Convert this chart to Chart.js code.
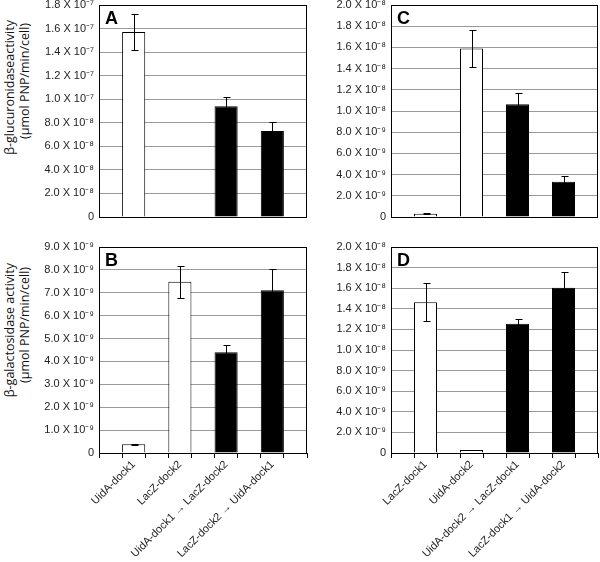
<!DOCTYPE html>
<html>
<head>
<meta charset="utf-8">
<script src="https://cdn.jsdelivr.net/npm/chart.js@4"></script>
<style>
body{margin:0;background:#fff;width:600px;height:562px;position:relative;overflow:hidden;font-family:"Liberation Sans",Arial,sans-serif}
.box{position:absolute}
.ytitle{position:absolute;writing-mode:vertical-rl;transform:rotate(180deg);font-family:"Open Sans",sans-serif;font-size:12.5px;color:#111;white-space:nowrap;line-height:1}
</style>
</head>
<body>
<div class="ytitle" style="left:4px;top:20px">β-glucuronidaseactivity</div>
<div class="ytitle" style="left:19px;top:23px">(µmol PNP/min/cell)</div>
<div class="ytitle" style="left:4px;top:263px">β-galactosidase activity</div>
<div class="ytitle" style="left:19px;top:267px">(µmol PNP/min/cell)</div>

<div class="box" style="left:40px;top:0"><canvas id="chart-a" width="280" height="222"></canvas></div>
<div class="box" style="left:320px;top:0"><canvas id="chart-c" width="280" height="222"></canvas></div>
<div class="box" style="left:40px;top:235px"><canvas id="chart-b" width="280" height="327"></canvas></div>
<div class="box" style="left:320px;top:235px"><canvas id="chart-d" width="280" height="327"></canvas></div>

<script>
// categories
const leftCats = ["UidA-dock1", "LacZ-dock2", "UidA-dock1 → LacZ-dock2", "LacZ-dock2 → UidA-dock1"];
const rightCats = ["LacZ-dock1", "UidA-dock2", "UidA-dock2 → LacZ-dock1", "LacZ-dock1 → UidA-dock2"];
const barColors = ["#ffffff", "#ffffff", "#000000", "#000000"];

// A: beta-glucuronidase, left strains
const valsA = [1.57e-7, 5e-10, 9.4e-8, 7.3e-8];
const errA = [1.5e-8, 0, 8e-9, 8e-9];
// B: beta-galactosidase, left strains
const valsB = [3.8e-10, 7.48e-9, 4.4e-9, 7.11e-9];
const errB = [2e-11, 7e-10, 3.2e-10, 9.2e-10];
// C: beta-glucuronidase, right strains
const valsC = [3.1e-10, 1.59e-8, 1.063e-8, 3.33e-9];
const errC = [5e-11, 1.75e-9, 1.05e-9, 5e-10];
// D: beta-galactosidase, right strains
const valsD = [1.463e-8, 2.9e-10, 1.255e-8, 1.605e-8];
const errD = [1.85e-9, 3e-11, 4.3e-10, 1.5e-9];

// y scales (max, step)
const yMaxA = 1.8e-7, yStepA = 2e-8;
const yMaxB = 9e-9, yStepB = 1e-9;
const yMaxC = 2e-8, yStepC = 2e-9;
const yMaxD = 2e-8, yStepD = 2e-9;

const SUP = {"-":"⁻","0":"⁰","1":"¹","2":"²","3":"³","4":"⁴","5":"⁵","6":"⁶","7":"⁷","8":"⁸","9":"⁹"};

// 9 slots: empty gap, bar, gap, bar ... like the excel original
function spread(arr, blank){
  const out = [blank];
  arr.forEach(v=>{ out.push(v); out.push(blank); });
  return out;
}

function fmtTick(v){
  if(v < 1e-15) return "0";
  const [m, e] = v.toExponential(1).split("e");
  const ex = String(parseInt(e,10)).split("").map(c=>SUP[c]).join("");
  return `${m} X 10${ex}`;
}

const errorBars = {
  id: "errorBars",
  afterDatasetsDraw(chart, args, opts){
    const ctx = chart.ctx;
    const y = chart.scales.y;
    const data = chart.data.datasets[0].data;
    ctx.save();
    ctx.strokeStyle = "#000";
    ctx.lineWidth = 1;
    chart.getDatasetMeta(0).data.forEach((bar, i)=>{
      const v = data[i], e = opts.errors[i];
      if(v == null || !e) return;
      const x = Math.round(bar.x) + 0.5;
      const yt = Math.round(y.getPixelForValue(v + e)) + 0.5;
      const yb = Math.round(y.getPixelForValue(Math.max(0, v - e))) + 0.5;
      ctx.beginPath();
      ctx.moveTo(x, yt); ctx.lineTo(x, yb);
      ctx.moveTo(x - 3, yt); ctx.lineTo(x + 4, yt);
      ctx.moveTo(x - 3, yb); ctx.lineTo(x + 4, yb);
      ctx.stroke();
    });
    ctx.restore();
  }
};

const frame = {
  id: "frame",
  afterDraw(chart, args, opts){
    const {left, top, right, bottom} = chart.chartArea;
    const ctx = chart.ctx;
    ctx.save();
    ctx.strokeStyle = "#000";
    ctx.lineWidth = 1;
    ctx.strokeRect(Math.round(left) + 0.5, Math.round(top) + 0.5, Math.round(right - left) - 1, Math.round(bottom - top));
    ctx.fillStyle = "#000";
    ctx.font = "bold 18px 'Liberation Sans', Arial, sans-serif";
    ctx.textBaseline = "alphabetic";
    ctx.fillText(opts.letter, left + 6, top + 19);
    ctx.restore();
  }
};

function makePanel(id, cats, vals, errs, yMax, yStep, letter, yWidth, pad, showX){
  const ctx = document.getElementById(id).getContext("2d");
  const xScale = {
    display: showX,
    offset: true,
    grid: {offset: true, drawOnChartArea: false, drawTicks: true, tickLength: 5, color: "#000"},
    border: {display: true, color: "#000"},
    ticks: {
      autoSkip: false, maxRotation: 45, minRotation: 45, padding: 0,
      color: "#222", font: {family: "'Liberation Sans', Arial, sans-serif", size: 11}
    }
  };
  if(showX) xScale.afterFit = s=>{ s.height = 109; };
  return new Chart(ctx, {
    type: "bar",
    data: {
      labels: spread(cats, ""),
      datasets: [{
        data: spread(vals, null),
        backgroundColor: spread(barColors, "#fff"),
        borderColor: "#000",
        borderWidth: {top: 1, left: 1, right: 1, bottom: 0},
        borderSkipped: "start",
        inflateAmount: 0,
        barPercentage: 1,
        categoryPercentage: 1
      }]
    },
    options: {
      responsive: false,
      animation: false,
      layout: {padding: pad},
      plugins: {
        legend: {display: false},
        tooltip: {enabled: false},
        errorBars: {errors: spread(errs, 0)},
        frame: {letter}
      },
      scales: {
        x: xScale,
        y: {
          min: 0, max: yMax,
          grid: {color: "#9a9a9a", drawTicks: false},
          border: {display: false},
          ticks: {
            stepSize: yStep, padding: 5, color: "#222", autoSkip: false,
            font: {family: "'Liberation Sans', Arial, sans-serif", size: 11},
            callback: v => fmtTick(v)
          },
          afterFit(s){ s.width = yWidth; s.paddingTop = 0; s.paddingBottom = 0; }
        }
      }
    },
    plugins: [errorBars, frame]
  });
}

makePanel("chart-a", leftCats, valsA, errA, yMaxA, yStepA, "A", 59, {top: 5, right: 13, bottom: 5, left: 0}, false);
makePanel("chart-c", rightCats, valsC, errC, yMaxC, yStepC, "C", 71, {top: 5, right: 2, bottom: 5, left: 0}, false);
makePanel("chart-b", leftCats, valsB, errB, yMaxB, yStepB, "B", 59, {top: 12, right: 13, bottom: 0, left: 0}, true);
makePanel("chart-d", rightCats, valsD, errD, yMaxD, yStepD, "D", 71, {top: 12, right: 2, bottom: 0, left: 0}, true);
</script>
</body>
</html>
